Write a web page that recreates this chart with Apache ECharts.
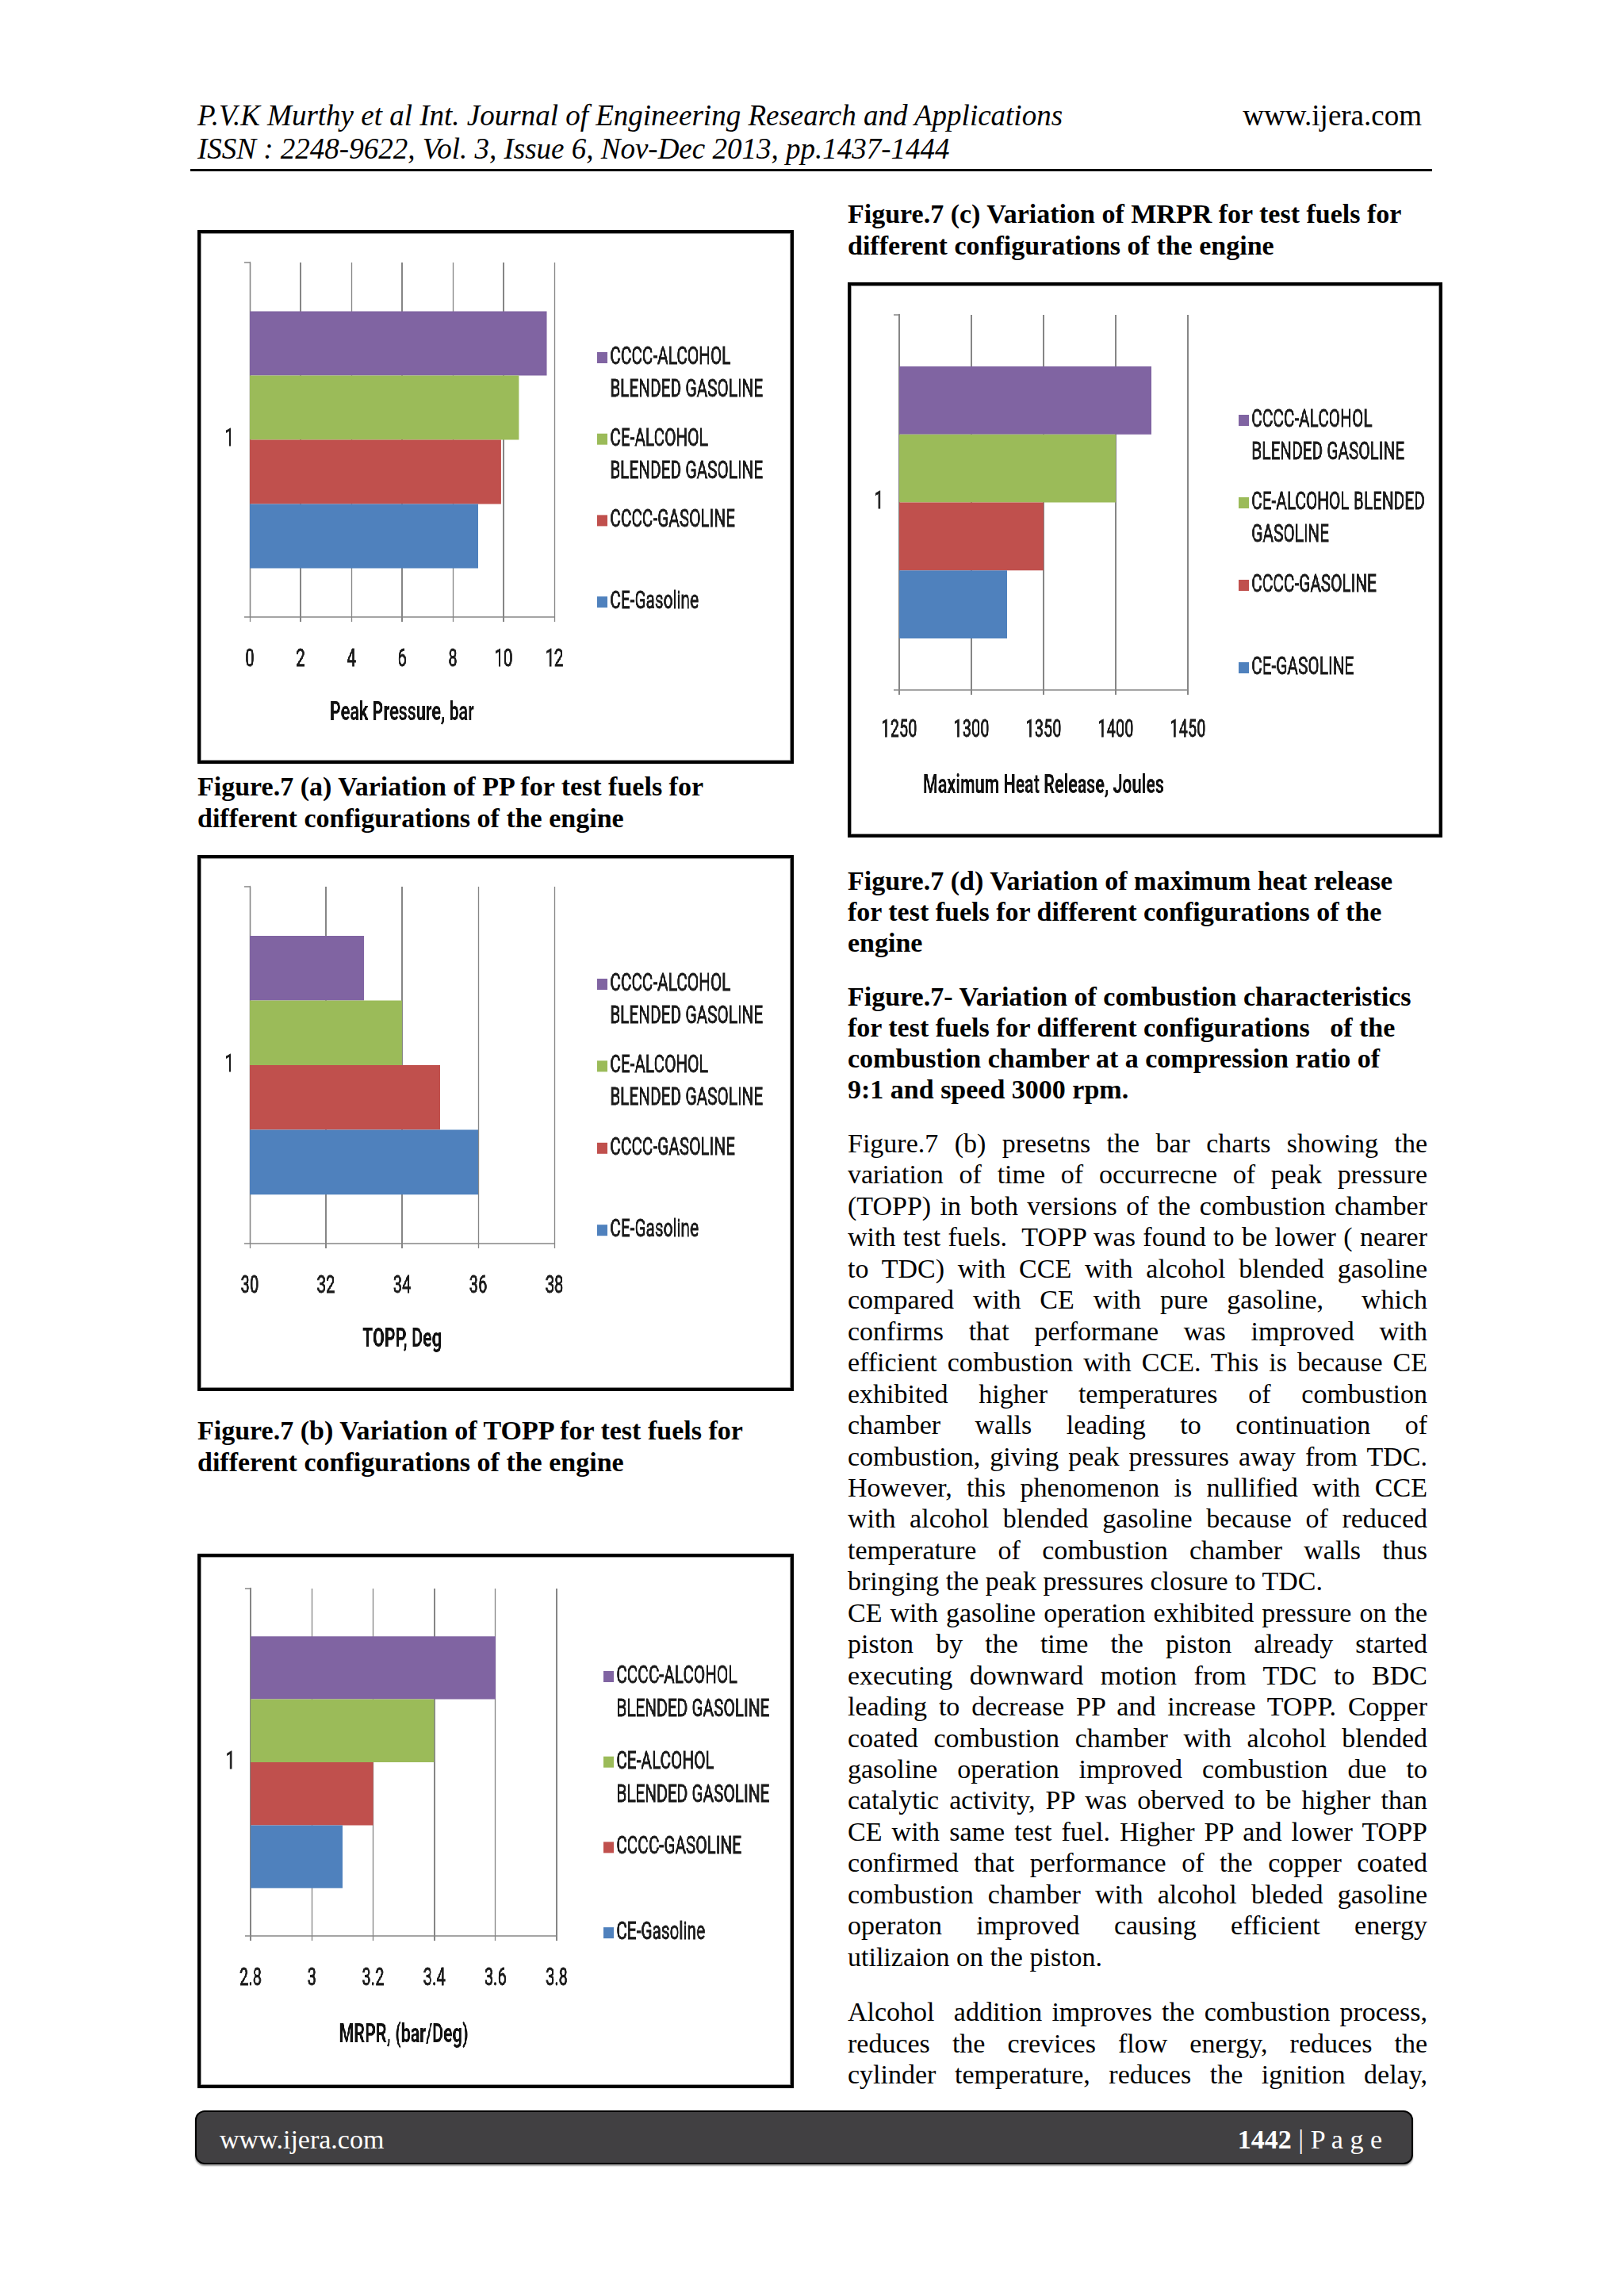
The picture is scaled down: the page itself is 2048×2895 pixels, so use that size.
<!DOCTYPE html>
<html><head><meta charset="utf-8">
<script src="https://cdn.jsdelivr.net/npm/echarts@6/dist/echarts.min.js"></script>
<style>
html,body{margin:0;padding:0;background:#fff;}
#page{position:relative;width:2048px;height:2895px;overflow:hidden;background:#fff;font-family:"Liberation Serif","Times New Roman",serif;color:#000;}
.ln{position:absolute;white-space:nowrap;}
.j{white-space:normal;text-align:justify;text-align-last:justify;overflow:hidden;}
.frame{position:absolute;border:4px solid #000;box-sizing:border-box;pointer-events:none;box-shadow:inset 0 0 0 1px #9a9a9a;}
</style></head><body><div id="page"></div>
<script>
// ---------- data ----------
const categories = ['1'];
const seriesKeys = ['CE-Gasoline', 'CCCC-GASOLINE', 'CE-ALCOHOL BLENDED GASOLINE', 'CCCC-ALCOHOL BLENDED GASOLINE'];
const seriesColors = ['#4F81BD', '#C0504D', '#9BBB59', '#8064A2'];
const ppValues = [9.0, 9.9, 10.6, 11.7];        // Peak Pressure, bar
const toppValues = [36, 35, 34, 33];            // TOPP, Deg
const mrprValues = [3.1, 3.2, 3.4, 3.6];        // MRPR, (bar/Deg)
const heatValues = [1325, 1350, 1400, 1425];    // Maximum Heat Release, Joules
const ppTicks = [0, 12, 2];
const toppTicks = [30, 38, 2];
const mrprTicks = [2.8, 3.8, 0.2];
const heatTicks = [1250, 1450, 50];
const legendLabelsABC = ['CE-Gasoline', 'CCCC-GASOLINE', 'CE-ALCOHOL\nBLENDED GASOLINE', 'CCCC-ALCOHOL\nBLENDED GASOLINE'];
const legendLabelsD = ['CE-GASOLINE', 'CCCC-GASOLINE', 'CE-ALCOHOL BLENDED\nGASOLINE', 'CCCC-ALCOHOL\nBLENDED GASOLINE'];

const headerLeft = ['P.V.K Murthy et al Int. Journal of Engineering Research and Applications', 'ISSN : 2248-9622, Vol. 3, Issue 6, Nov-Dec 2013, pp.1437-1444'];
const captionA = ['Figure.7 (a) Variation of PP for test fuels for', 'different configurations of the engine'];
const captionB = ['Figure.7 (b) Variation of TOPP for test fuels for', 'different configurations of the engine'];
const captionC = ['Figure.7 (c) Variation of MRPR for test fuels for', 'different configurations of the engine'];
const captionD = ['Figure.7 (d) Variation of maximum heat release', 'for test fuels for different configurations of the', 'engine'];
const captionAll = ['Figure.7- Variation of combustion characteristics', 'for test fuels for different configurations &nbsp; of the', 'combustion chamber at a compression ratio of', '9:1 and speed 3000 rpm.'];
const para1 = [
 'Figure.7 (b) presetns the bar charts showing the',
 'variation of time of occurrecne of peak pressure',
 '(TOPP) in both versions of the combustion chamber',
 'with test fuels.&nbsp; TOPP was found to be lower ( nearer',
 'to TDC) with CCE with alcohol blended gasoline',
 'compared with CE with pure gasoline,&nbsp; which',
 'confirms that performane was improved with',
 'efficient combustion with CCE. This is because CE',
 'exhibited higher temperatures of combustion',
 'chamber walls leading to continuation of',
 'combustion, giving peak pressures away from TDC.',
 'However, this phenomenon is nullified with CCE',
 'with alcohol blended gasoline because of reduced',
 'temperature of combustion chamber walls thus',
 'bringing the peak pressures closure to TDC.'];
const para2 = [
 'CE with gasoline operation exhibited pressure on the',
 'piston by the time the piston already started',
 'executing downward motion from TDC to BDC',
 'leading to decrease PP and increase TOPP. Copper',
 'coated combustion chamber with alcohol blended',
 'gasoline operation improved combustion due to',
 'catalytic activity, PP was oberved to be higher than',
 'CE with same test fuel. Higher PP and lower TOPP',
 'confirmed that performance of the copper coated',
 'combustion chamber with alcohol bleded gasoline',
 'operaton improved causing efficient energy',
 'utilizaion on the piston.'];
const para3 = [
 'Alcohol&nbsp; addition improves the combustion process,',
 'reduces the crevices flow energy, reduces the',
 'cylinder temperature, reduces the ignition delay,'];

// ---------- page text ----------
const page = document.getElementById('page');
function txt(text, left, cy, o) {
  o = o || {};
  const d = document.createElement('div');
  d.className = 'ln';
  const lh = o.lh || 40;
  d.style.lineHeight = lh + 'px';
  d.style.height = lh + 'px';
  d.style.top = (cy - lh / 2) + 'px';
  if (o.right != null) d.style.right = o.right + 'px'; else d.style.left = left + 'px';
  d.style.fontSize = (o.size || 34) + 'px';
  if (o.bold) d.style.fontWeight = 'bold';
  if (o.italic) d.style.fontStyle = 'italic';
  if (o.width) d.style.width = o.width + 'px';
  if (o.justify) d.classList.add('j');
  if (o.color) d.style.color = o.color;
  d.innerHTML = text;
  page.appendChild(d);
  return d;
}
txt(headerLeft[0], 249, 146, {size: 37, italic: true, lh: 44});
txt(headerLeft[1], 249, 188, {size: 37, italic: true, lh: 44});
txt('www.ijera.com', 0, 146, {size: 37, right: 2048 - 1793, lh: 44});
const rule = document.createElement('div');
rule.style.cssText = 'position:absolute;left:240px;top:213px;width:1566px;height:3px;background:#000;';
page.appendChild(rule);

captionC.forEach((t, i) => txt(t, 1069, 270 + i * 39.5, {bold: true}));
captionA.forEach((t, i) => txt(t, 249, 992 + i * 39.5, {bold: true}));
captionB.forEach((t, i) => txt(t, 249, 1804 + i * 39.5, {bold: true}));
captionD.forEach((t, i) => txt(t, 1069, 1111 + i * 39, {bold: true}));
captionAll.forEach((t, i) => txt(t, 1069, 1257 + i * 39, {bold: true}));

const bodyW = 731;
para1.concat(para2).forEach((t, i) => {
  const last = (i === para1.length - 1) || (i === para1.length + para2.length - 1);
  txt(t, 1069, 1442 + i * 39.45, {width: bodyW, justify: !last});
});
para3.forEach((t, i) => txt(t, 1069, 2537 + i * 39.5, {width: bodyW, justify: true}));

// footer
const foot = document.createElement('div');
foot.style.cssText = 'position:absolute;left:246px;top:2661px;width:1536px;height:68px;background:#414042;border:2px solid #000;border-radius:12px;box-sizing:border-box;box-shadow:0 2px 2px #999;';
page.appendChild(foot);
txt('www.ijera.com', 277, 2698, {color: '#fff', size: 34});
txt('<b>1442</b> | P a g e', 0, 2698, {color: '#fff', size: 34, right: 2048 - 1743});

// ---------- charts ----------
// Charts are drawn by ECharts on a wider canvas and condensed horizontally with CSS,
// reproducing the narrow (horizontally squeezed) look of the original chart text.
const SX = 0.65;
const CF = "Roboto,'Liberation Sans',sans-serif";
const AX = '#868686';
const TXT = '#1a1a1a';
function makeChart(box, values, ticks, axisName, labels, L) {
  const el = document.createElement('div');
  el.style.cssText = `position:absolute;left:${box[0]}px;top:${box[1]}px;width:${box[2] / SX}px;height:${box[3]}px;background:#fff;transform:scaleX(${SX});transform-origin:0 0;`;
  page.appendChild(el);
  const fr = document.createElement('div');
  fr.className = 'frame';
  fr.style.cssText += `left:${box[0]}px;top:${box[1]}px;width:${box[2]}px;height:${box[3]}px;`;
  page.appendChild(fr);
  const labelMap = {};
  seriesKeys.forEach((k, i) => {
    labelMap[k] = ' \n' + (labels[i].indexOf('\n') >= 0 ? labels[i] : labels[i] + '\n ');
  });
  const order = [3, 2, 1, 0];  // top bar first
  const chart = echarts.init(el, null, {renderer: 'canvas'});
  chart.setOption({
    animation: false,
    textStyle: {fontFamily: CF},
    grid: {left: L.gl / SX, top: L.gt, width: L.gw / SX, height: L.gh},
    xAxis: {
      type: 'value', min: ticks[0], max: ticks[1], interval: ticks[2],
      axisLine: {show: true, lineStyle: {color: AX, width: 1.5}},
      axisTick: {show: true, length: 6, lineStyle: {color: AX, width: 1.5 / SX}},
      splitLine: {show: true, lineStyle: {color: AX, width: 1.5 / SX}},
      axisLabel: {fontSize: 31, lineHeight: 30, margin: L.tick - 15, color: TXT, fontFamily: CF,
                  textBorderColor: TXT, textBorderWidth: 0.8,
                  formatter: v => String(Math.round(v * 1000) / 1000)},
      name: axisName, nameLocation: 'middle', nameGap: L.name - 15,
      nameTextStyle: {fontSize: 33, lineHeight: 30, fontWeight: 'bold', color: '#111', fontFamily: CF}
    },
    yAxis: {
      type: 'category', data: categories,
      axisLine: {show: true, lineStyle: {color: AX, width: 1.5 / SX}},
      axisTick: {show: true, length: 7 / SX, lineStyle: {color: AX, width: 1.5}},
      axisLabel: {fontSize: 31, margin: 20 / SX, color: TXT, fontFamily: CF,
                  textBorderColor: TXT, textBorderWidth: 0.8},
      splitLine: {show: false}
    },
    legend: {
      orient: 'vertical', left: L.lx / SX, top: L.lf - 1.5 * L.lh, padding: 0,
      itemWidth: 13 / SX, itemHeight: 14, itemGap: L.lp - 3 * L.lh, icon: 'rect',
      selectedMode: false,
      data: order.map(i => seriesKeys[i]),
      formatter: n => labelMap[n],
      textStyle: {fontSize: 32, lineHeight: L.lh, color: TXT, fontFamily: CF,
                  textBorderColor: TXT, textBorderWidth: 0.8}
    },
    series: order.map(i => ({
      name: seriesKeys[i], type: 'bar', data: [values[i]], barGap: '0%', barCategoryGap: '27.5%',
      itemStyle: {color: seriesColors[i]}
    }))
  });
}
makeChart([249, 290, 752, 673], ppValues, ppTicks, 'Peak Pressure, bar', legendLabelsABC,
  {gl: 66, gt: 41, gw: 384, gh: 447, tick: 54, name: 122, lx: 504, lf: 161, lp: 102.7, lh: 41});
makeChart([249, 1078, 752, 676], toppValues, toppTicks, 'TOPP, Deg', legendLabelsABC,
  {gl: 66, gt: 40, gw: 384, gh: 450, tick: 54, name: 122, lx: 504, lf: 163, lp: 103.4, lh: 41});
makeChart([249, 1959, 752, 674], mrprValues, mrprTicks, 'MRPR, (bar/Deg)', legendLabelsABC,
  {gl: 67, gt: 44, gw: 386, gh: 438, tick: 54, name: 126, lx: 512, lf: 155, lp: 107.7, lh: 42});
makeChart([1069, 356, 750, 700], heatValues, heatTicks, 'Maximum Heat Release, Joules', legendLabelsD,
  {gl: 65, gt: 41, gw: 364, gh: 473, tick: 51, name: 122, lx: 493, lf: 174, lp: 104, lh: 41});
</script></body></html>
